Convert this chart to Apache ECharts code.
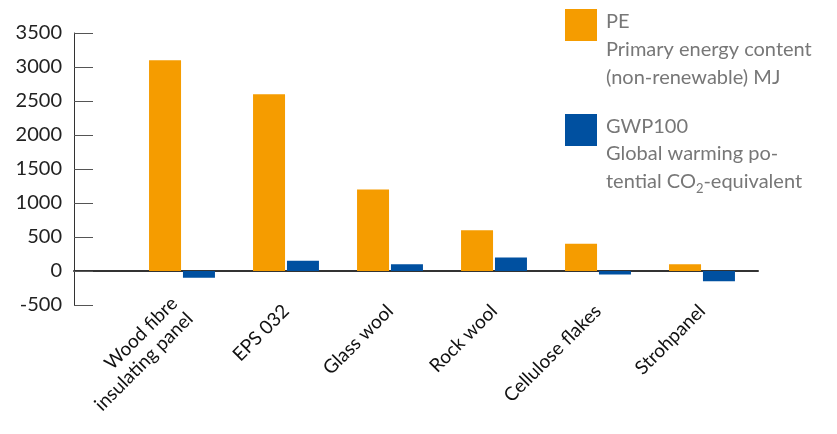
<!DOCTYPE html>
<html>
<head>
<meta charset="utf-8">
<script src="https://cdn.jsdelivr.net/npm/echarts@6/dist/echarts.min.js"></script>
<style>
  html, body { margin: 0; padding: 0; background: #fff; }
  #main { width: 837px; height: 434px; }
</style>
</head>
<body>
<div id="main"></div>
<script>
var categories = ['Wood fibre\ninsulating panel', 'EPS 032', 'Glass wool', 'Rock wool', 'Cellulose flakes', 'Strohpanel'];
var peValues = [3100, 2600, 1200, 600, 400, 100];
var gwpValues = [-100, 150, 100, 200, -50, -150];
var yMin = -500, yMax = 3500, yStep = 500;

var font = 'Lato';
var chart = echarts.init(document.getElementById('main'));

var option = {
  animation: false,
  textStyle: { fontFamily: font },
  // grid 0 carries the y scale and the zero line, grid 1 holds the bars
  grid: [
    { left: 74, right: 79, top: 33, bottom: 129 },
    { left: 130, right: 83, top: 33, bottom: 129 }
  ],
  xAxis: [
    {
      type: 'value', gridIndex: 0, min: 0, max: 1,
      axisLine: { show: true, onZero: true, lineStyle: { color: '#333', width: 2 } },
      axisTick: { show: false }, axisLabel: { show: false }, splitLine: { show: false }
    },
    {
      type: 'category', gridIndex: 1, data: categories,
      axisLine: { show: false, onZero: false },
      axisTick: { show: false },
      axisLabel: {
        interval: 0, rotate: 45, margin: 3,
        fontSize: 19, lineHeight: 22, color: '#111', fontFamily: font
      }
    }
  ],
  yAxis: [
    {
      type: 'value', gridIndex: 0, min: yMin, max: yMax, interval: yStep,
      axisLine: { show: true, lineStyle: { color: '#333', width: 1 } },
      axisTick: { show: true, inside: true, length: 19, lineStyle: { color: '#555' } },
      axisLabel: {
        fontSize: 20, color: '#222', margin: 12, fontFamily: font,
        formatter: function (v) { return String(v); }
      },
      splitLine: { show: false }
    },
    {
      type: 'value', gridIndex: 1, min: yMin, max: yMax, interval: yStep,
      show: false, splitLine: { show: false }
    }
  ],
  legend: {
    orient: 'vertical', left: 565, top: 9, padding: 0,
    itemWidth: 32, itemHeight: 32, itemGap: 73,
    icon: 'rect',
    formatter: '{n|{name}}',
    textStyle: {
      fontSize: 20, color: '#777', fontFamily: font,
      rich: { n: { fontSize: 20, color: '#777', fontFamily: font, padding: [0, 0, 6, 4] } }
    },
    data: ['PE', 'GWP100']
  },
  graphic: [
    {
      type: 'text', left: 606, top: 36,
      style: {
        text: 'Primary energy content\n(non-renewable) MJ',
        font: '20px Lato', fill: '#777', lineHeight: 28
      }
    },
    {
      type: 'text', left: 606, top: 140,
      style: {
        text: 'Global warming po-\ntential CO{sub|2}-equivalent',
        font: '20px Lato', fill: '#777', lineHeight: 28,
        rich: { sub: { fontSize: 13, fontFamily: font, fill: '#777', padding: [14, 0, 0, 0] } }
      }
    }
  ],
  series: [
    {
      name: 'PE', type: 'bar', xAxisIndex: 1, yAxisIndex: 1,
      data: peValues, barWidth: 32, barGap: '6%',
      itemStyle: { color: '#f59c00' }
    },
    {
      name: 'GWP100', type: 'bar', xAxisIndex: 1, yAxisIndex: 1,
      data: gwpValues, barWidth: 32, barGap: '6%',
      itemStyle: { color: '#0050a0' }
    }
  ]
};

chart.setOption(option);
</script>
</body>
</html>
